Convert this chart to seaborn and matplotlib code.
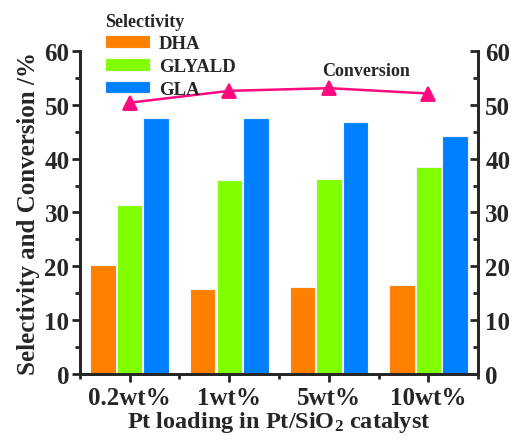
import matplotlib
matplotlib.use("Agg")
import matplotlib.pyplot as plt
from matplotlib.ticker import MultipleLocator
import seaborn as sns
import pandas as pd

categories = ["0.2wt%", "1wt%", "5wt%", "10wt%"]
dha = [20.3, 15.8, 16.1, 16.6]
glyald = [31.4, 36.1, 36.3, 38.5]
gla = [47.6, 47.5, 46.9, 44.2]
conversion = [50.4, 52.6, 53.1, 52.1]
series_names = ["DHA", "GLYALD", "GLA"]
colors = ["#FF7F00", "#80FF00", "#0080FF"]
line_color = "#FF0A7F"

sns.set_style("ticks")
plt.rcParams["font.family"] = ["Liberation Serif", "DejaVu Serif"]
plt.rcParams["font.weight"] = "bold"
plt.rcParams["mathtext.fontset"] = "custom"
plt.rcParams["mathtext.rm"] = "Liberation Serif:bold"
plt.rcParams["mathtext.it"] = "Liberation Serif:bold"
plt.rcParams["mathtext.bf"] = "Liberation Serif:bold"

rows = []
for name, vals in zip(series_names, [dha, glyald, gla]):
    for c, v in zip(categories, vals):
        rows.append({"cat": c, "series": name, "value": v})
df = pd.DataFrame(rows)

fig = plt.figure(figsize=(5.12, 4.39), dpi=100)
ax = fig.add_axes([0.156, 0.146, 0.778, 0.7355])

sns.barplot(data=df, x="cat", y="value", hue="series", order=categories,
            hue_order=series_names, palette=colors, width=0.8, gap=0.04,
            edgecolor="#f4f4f0", linewidth=0.8, saturation=1, ax=ax)
sns.pointplot(x=categories, y=conversion, color=line_color, markers="^",
              markersize=10, linewidth=1.8, ax=ax, errorbar=None)

ax.set_xlim(-0.5, 3.5)
ax.set_ylim(0, 60)
ax.yaxis.set_major_locator(MultipleLocator(10))
ax.yaxis.set_minor_locator(MultipleLocator(5))
ax.set_xticks(range(len(categories)))
ax.set_xticks([-0.5, 0.5, 1.5, 2.5, 3.5], minor=True)
ax.set_xticklabels(categories, fontsize=18, fontweight="bold")
ax.tick_params(axis="both", which="major", direction="out", length=6, width=2,
               labelsize=18, pad=1.5)
ax.tick_params(axis="both", which="minor", direction="out", length=3.5, width=2)
ax.tick_params(axis="x", which="major", pad=3)
for lbl in ax.get_yticklabels() + ax.get_xticklabels():
    lbl.set_fontweight("bold")
for side in ["left", "right", "bottom", "top"]:
    ax.spines[side].set_linewidth(2)
ax.spines["top"].set_visible(False)

ax2 = ax.twinx()
ax2.set_ylim(0, 60)
ax2.yaxis.set_major_locator(MultipleLocator(10))
ax2.yaxis.set_minor_locator(MultipleLocator(5))
ax2.tick_params(axis="y", which="major", direction="in", length=6, width=2,
                labelsize=18, pad=5)
ax2.tick_params(axis="y", which="minor", direction="in", length=3.5, width=2)
for lbl in ax2.get_yticklabels():
    lbl.set_fontweight("bold")
for side in ["left", "right", "bottom", "top"]:
    ax2.spines[side].set_linewidth(2)
ax2.spines["top"].set_visible(False)

ax.set_xlabel("Pt loading in Pt/SiO$_2$ catalyst", fontsize=17.5, fontweight="bold", labelpad=0)
ax.set_ylabel("Selectivity and Conversion /%", fontsize=18, fontweight="bold", labelpad=3)

ax.text(2.37, 56.3, "Conversion", fontsize=13, fontweight="bold", ha="center", va="center")

handles, labels = ax.get_legend_handles_labels()
if ax.get_legend() is not None:
    ax.get_legend().remove()
leg = ax2.legend(handles[:3], labels[:3], title="Selectivity", loc="upper left",
                 bbox_to_anchor=(0.045, 1.142), frameon=False, fontsize=13.5,
                 title_fontproperties={"weight": "bold", "size": 13},
                 handlelength=2.4, handleheight=0.65, labelspacing=0.3,
                 borderaxespad=0, handletextpad=0.45, alignment="left")
for t in leg.get_texts():
    t.set_fontweight("bold")

fig.savefig("out.png", dpi=100)
